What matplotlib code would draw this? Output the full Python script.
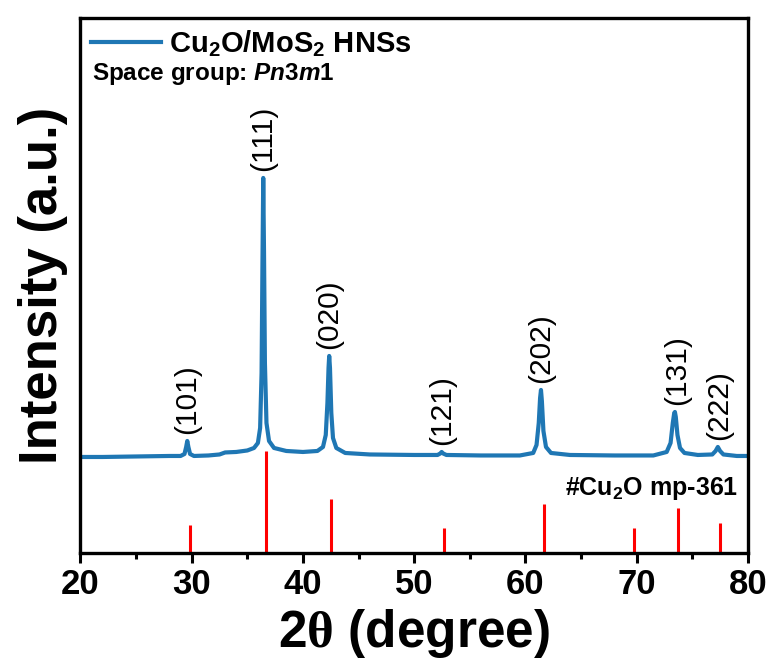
import matplotlib
matplotlib.use("Agg")
import matplotlib.pyplot as plt
from matplotlib.ticker import MultipleLocator

plt.rcParams['font.family'] = ['Liberation Sans', 'DejaVu Sans']
plt.rcParams['font.weight'] = 'bold'
plt.rcParams['mathtext.fontset'] = 'custom'
plt.rcParams['mathtext.rm'] = 'Liberation Sans:bold'
plt.rcParams['mathtext.it'] = 'Liberation Sans:italic:bold'
plt.rcParams['mathtext.sf'] = 'Liberation Serif'

two_theta = [20.0, 22.0, 25.0, 28.0, 29.0, 29.35, 29.5, 29.6, 29.7, 29.85, 30.2,
             31.5, 32.5, 33.0, 34.0, 35.0, 35.6, 35.95, 36.15, 36.28, 36.36, 36.43,
             36.5, 36.58, 36.72, 36.95, 37.4, 38.5, 40.0, 41.3, 41.8, 42.05, 42.2,
             42.3, 42.36, 42.43, 42.55, 42.7, 43.0, 43.8, 46.0, 50.0, 52.1, 52.35,
             52.47, 52.6, 52.9, 56.0, 59.5, 60.7, 61.0, 61.2, 61.32, 61.4, 61.48,
             61.62, 61.85, 62.3, 64.0, 68.0, 71.5, 72.7, 73.05, 73.25, 73.38, 73.44,
             73.52, 73.67, 73.9, 74.3, 75.5, 76.8, 77.1, 77.3, 77.5, 77.8, 79.0, 80.0]
intensity = [96, 96, 96.5, 97, 97, 99, 106, 112, 106, 99, 97,
             97.5, 98.5, 100.5, 101, 102.5, 105, 110, 125, 180, 290, 375,
             300, 190, 130, 112, 105, 102, 101, 102, 106, 118, 150,
             185, 197, 185, 140, 115, 105, 100, 98.5, 98, 98, 99.5,
             101, 99.5, 98, 97.5, 97.5, 100, 108, 130, 155, 163, 152,
             122, 106, 100, 98, 97.5, 97.5, 101, 110, 130, 140, 141,
             136, 118, 105, 100, 98, 98.5, 102, 106, 102, 98.5, 97, 97]

# labelled reflections (position, label)
peak_pos = [29.6, 36.43, 42.36, 52.47, 61.4, 73.6, 77.45]
peak_top = [112, 375, 197, 101, 163, 141, 106]
peak_hkl = ['(101)', '(111)', '(020)', '(121)', '(202)', '(131)', '(222)']

# reference sticks, Cu2O mp-361
ref_pos = [29.84, 36.67, 42.52, 52.67, 61.66, 69.75, 73.71, 77.48]
ref_int = [28, 102, 54, 25, 49, 25, 45, 30]

fig = plt.figure(figsize=(7.71, 6.64), dpi=100)
ax = fig.add_axes([0.1044, 0.1672, 0.8656, 0.8058])

ax.plot(two_theta, intensity, color='#1f77b4', lw=3.0,
        label='Cu$_2$O/MoS$_2$ HNSs', solid_joinstyle='round')
ax.vlines(ref_pos, 0, ref_int, color='red', lw=2.2)

for x, y, t in zip(peak_pos, peak_top, peak_hkl):
    ax.annotate(t, (x, y), xytext=(0, 5), textcoords='offset points',
                rotation=90, ha='center', va='bottom', fontsize=21.5,
                fontweight='normal')

ax.text(0.017, 0.895, 'Space group: $\\mathit{Pn}$3$\\mathit{m}$1',
        transform=ax.transAxes, fontsize=17.5, va='center', ha='left')
ax.text(0.985, 0.121, '#Cu$_2$O mp-361', transform=ax.transAxes,
        fontsize=18, va='center', ha='right')

ax.set_xlim(20, 80)
ax.set_ylim(0, 535)
ax.xaxis.set_major_locator(MultipleLocator(10))
ax.xaxis.set_minor_locator(MultipleLocator(5))
ax.tick_params(axis='x', which='major', length=7, width=2.2, labelsize=25, pad=4)
ax.tick_params(axis='x', which='minor', length=4, width=2.2)
ax.set_yticks([])
for lab in ax.get_xticklabels():
    lab.set_fontweight('bold')
for s in ax.spines.values():
    s.set_linewidth(2.4)

ax.set_xlabel('2$\\mathsf{\\theta}$ (degree)', fontsize=37, fontweight='bold', labelpad=4)
ax.set_ylabel('Intensity (a.u.)', fontsize=38, fontweight='bold', labelpad=9)

leg = ax.legend(loc='upper left', frameon=False, fontsize=21, handlelength=2.4,
                handletextpad=0.3, borderaxespad=0.15, borderpad=0.2)

fig.savefig('out.png', dpi=100)
